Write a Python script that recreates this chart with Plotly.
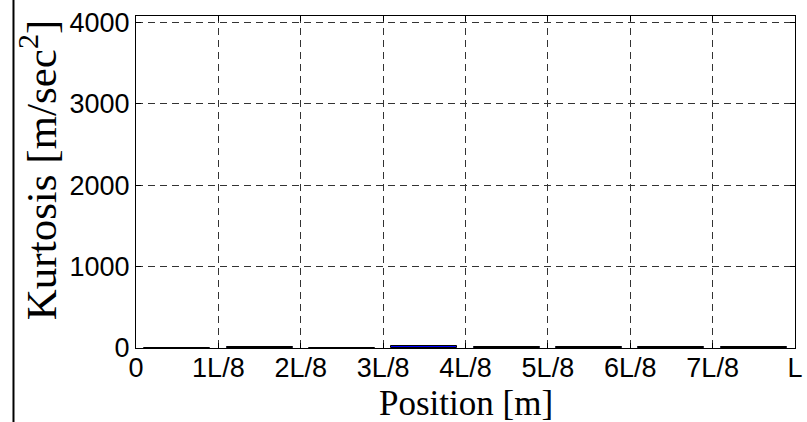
import plotly.graph_objects as go

# Data
positions = [0.5, 1.5, 2.5, 3.5, 4.5, 5.5, 6.5, 7.5]
kurtosis = [3, 14, 4, 28, 9, 7, 9, 11]
tick_vals = [0, 1, 2, 3, 4, 5, 6, 7, 8]
tick_text = ["0", "1L/8", "2L/8", "3L/8", "4L/8", "5L/8", "6L/8", "7L/8", "L"]
y_ticks = [0, 1000, 2000, 3000, 4000]

W, H = 807, 422
ml, mr, mt, mb = 136, 4, 16, 74
pw, ph = W - ml - mr, H - mt - mb

fig = go.Figure()
fig.add_trace(go.Bar(
    x=positions, y=kurtosis, width=0.8,
    marker=dict(color="#0000ff", line=dict(color="black", width=1)),
))

grid = dict(showgrid=True, gridcolor="#333333", gridwidth=1, griddash="7px,5px",
            zeroline=False, showline=True, linecolor="black", linewidth=1,
            mirror="ticks", ticks="inside", ticklen=5, tickcolor="black",
            tickfont=dict(family="Liberation Sans, Arial", size=27, color="black"))

fig.update_xaxes(range=[0, 8], tickvals=tick_vals, ticktext=tick_text, **grid,
                 ticklabeloverflow="allow", ticklabelstandoff=-4)
fig.update_yaxes(range=[0, 4075], tickvals=y_ticks, **grid)

fig.add_annotation(text="Position [m]", xref="paper", yref="paper",
                   x=(470 - ml) / pw, y=(mt + ph - 404) / ph, showarrow=False,
                   xanchor="center", yanchor="middle",
                   font=dict(family="Liberation Serif, Times New Roman", size=35, color="black"))

fig.add_annotation(text="Kurtosis [m/sec<sup>2</sup>]", textangle=-90,
                   xref="paper", yref="paper", x=(37 - ml) / pw, y=(mt + ph - 170) / ph,
                   showarrow=False, xanchor="center", yanchor="middle",
                   font=dict(family="Liberation Serif, Times New Roman", size=43, color="black"))

fig.add_shape(type="line", xref="paper", yref="paper",
              x0=(12 - ml) / pw, x1=(12 - ml) / pw, y0=-(H - mt - ph) / ph - 0.01, y1=1 + mt / ph + 0.01,
              line=dict(color="black", width=2))

fig.update_layout(width=W, height=H, margin=dict(l=ml, r=mr, t=mt, b=mb),
                  paper_bgcolor="white", plot_bgcolor="white", showlegend=False,
                  bargap=0)

fig.write_html("out.html")
